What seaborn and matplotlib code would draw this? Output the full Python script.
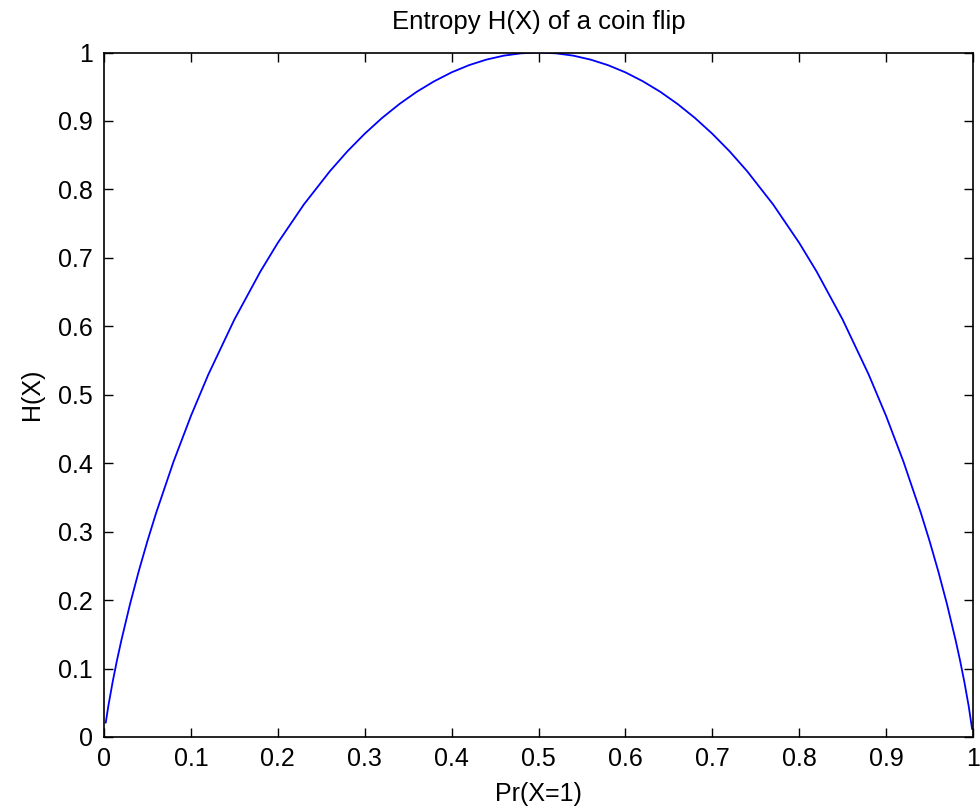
import matplotlib
matplotlib.use("Agg")
import matplotlib.pyplot as plt
import seaborn as sns
import pandas as pd

# Values
pr_x1 = [0.002, 0.005, 0.01, 0.015, 0.02, 0.03, 0.04, 0.05, 0.06, 0.08, 0.1, 0.12,
         0.15, 0.18, 0.2, 0.23, 0.26, 0.28, 0.3, 0.32, 0.34, 0.36, 0.38, 0.4, 0.42,
         0.44, 0.46, 0.48, 0.5,
         0.52, 0.54, 0.56, 0.58, 0.6, 0.62, 0.64, 0.66, 0.68, 0.7, 0.72, 0.74, 0.77,
         0.8, 0.82, 0.85, 0.88, 0.9, 0.92, 0.94, 0.95, 0.96, 0.97, 0.98, 0.985,
         0.99, 0.995, 0.999]
entropy_h = [0.0208, 0.0454, 0.0808, 0.1124, 0.1414, 0.1944, 0.2423, 0.2864, 0.3274,
             0.4022, 0.4690, 0.5294, 0.6098, 0.6801, 0.7219, 0.7780, 0.8267, 0.8555,
             0.8813, 0.9044, 0.9248, 0.9427, 0.9580, 0.9710, 0.9815, 0.9896, 0.9954,
             0.9988, 1.0,
             0.9988, 0.9954, 0.9896, 0.9815, 0.9710, 0.9580, 0.9427, 0.9248, 0.9044,
             0.8813, 0.8555, 0.8267, 0.7780, 0.7219, 0.6801, 0.6098, 0.5294, 0.4690,
             0.4022, 0.3274, 0.2864, 0.2423, 0.1944, 0.1414, 0.1124, 0.0808, 0.0454,
             0.0114]
x_ticks = [0, 0.1, 0.2, 0.3, 0.4, 0.5, 0.6, 0.7, 0.8, 0.9, 1]
y_ticks = [0, 0.1, 0.2, 0.3, 0.4, 0.5, 0.6, 0.7, 0.8, 0.9, 1]
tick_labels = ["0", "0.1", "0.2", "0.3", "0.4", "0.5", "0.6", "0.7", "0.8", "0.9", "1"]

df = pd.DataFrame({"p": pr_x1, "H": entropy_h})

sns.set_style("white")
plt.rcParams["font.family"] = ["Liberation Sans", "DejaVu Sans"]
plt.rcParams["text.color"] = "black"
plt.rcParams["axes.labelcolor"] = "black"

fig = plt.figure(figsize=(9.8, 8.09), dpi=100)
ax = fig.add_axes([104 / 980, 1 - 737 / 809, (973 - 104) / 980, (737 - 52.5) / 809])

sns.lineplot(data=df, x="p", y="H", ax=ax, color="#0000ff", linewidth=1.3,
             sort=False, zorder=1)

ax.set_xlim(0, 1)
ax.set_ylim(0, 1)
ax.set_xticks(x_ticks)
ax.set_xticklabels(tick_labels)
ax.set_yticks(y_ticks)
ax.set_yticklabels(tick_labels)

for s in ax.spines.values():
    s.set_visible(True)
    s.set_color("black")
    s.set_linewidth(1.2)
    s.set_zorder(3)

ax.tick_params(direction="in", length=6.5, width=1.0, color="black",
               top=True, right=True, bottom=True, left=True,
               labelsize=18, labelcolor="black")
ax.tick_params(axis="y", pad=8)
ax.tick_params(axis="x", pad=7)

ax.set_title("Entropy H(X) of a coin flip", fontsize=18.5, pad=17, color="black")
ax.set_xlabel("Pr(X=1)", fontsize=18, labelpad=8, color="black")
ax.set_ylabel("H(X)", fontsize=18, labelpad=10, color="black")

fig.savefig("out.png", dpi=100)
